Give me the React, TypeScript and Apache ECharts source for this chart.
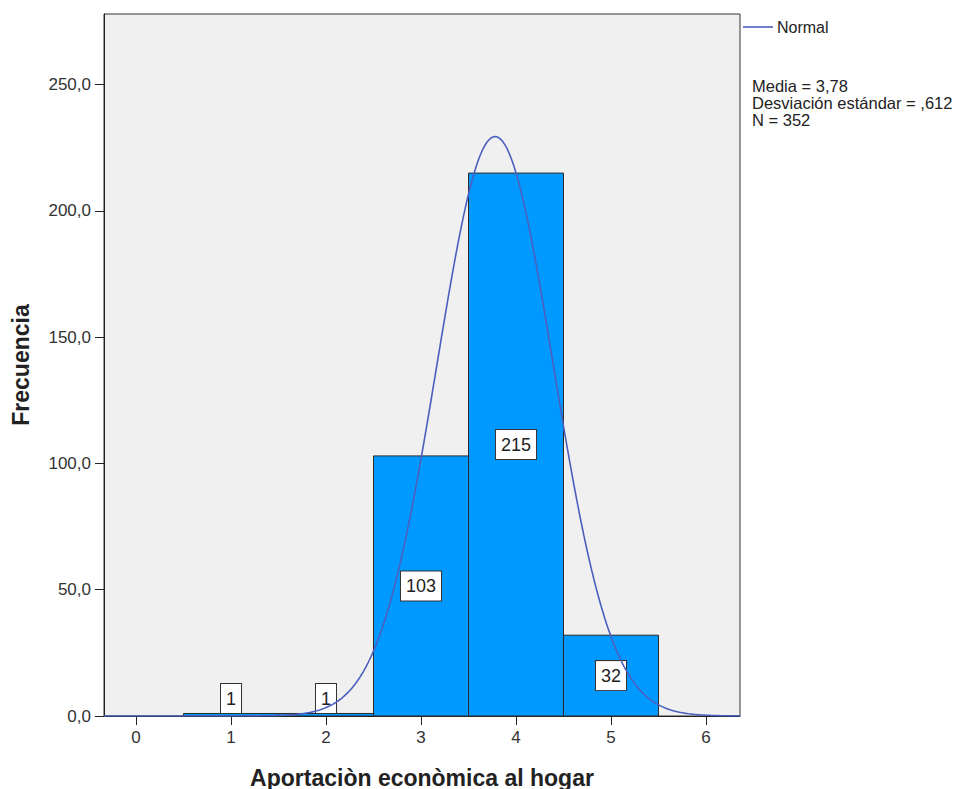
import React, { useEffect, useRef } from "react";
import * as echarts from "echarts";

const categories = [1, 2, 3, 4, 5];
const frequencies = [1, 1, 103, 215, 32];
const yTicks = [0, 50, 100, 150, 200, 250];
const xTicks = [0, 1, 2, 3, 4, 5, 6];
const MEAN = 3.78;
const SD = 0.612;
const N = 352;
const BIN_WIDTH = 1;
const statsLines = ["Media = 3,78", "Desviación estándar = ,612", "N = 352"];

const X_MIN = -0.337;
const X_MAX = 6.358;
const Y_MAX = 278;

const FONT = "'Liberation Sans', Arial, sans-serif";

function normalCurve(): number[][] {
  const pts: number[][] = [];
  const steps = 400;
  for (let i = 0; i <= steps; i++) {
    const x = X_MIN + ((X_MAX - X_MIN) * i) / steps;
    const z = (x - MEAN) / SD;
    const y = ((N * BIN_WIDTH) / (SD * Math.sqrt(2 * Math.PI))) * Math.exp(-0.5 * z * z);
    pts.push([x, y]);
  }
  return pts;
}

export default function App() {
  const ref = useRef<HTMLDivElement>(null);
  useEffect(() => {
    if (!ref.current) return;
    const chart = echarts.init(ref.current, undefined, { renderer: "svg" });
    const barData = categories.map((c, i) => [c, frequencies[i]]);
    chart.setOption({
      animation: false,
      grid: {
        left: 104,
        top: 14,
        right: 226,
        bottom: 73,
        containLabel: false,
        outerBoundsMode: "none",
        show: true,
        backgroundColor: "#f0f0f0",
        borderColor: "#333",
        borderWidth: 1,
      },
      xAxis: {
        type: "value",
        min: X_MIN,
        max: X_MAX,
        splitLine: { show: false },
        axisLine: { show: true, onZero: false, lineStyle: { color: "#222", width: 1 } },
        axisTick: { show: true, length: 9, customValues: xTicks, lineStyle: { color: "#222" } },
        axisLabel: {
          customValues: xTicks,
          margin: 13,
          fontSize: 17,
          color: "#333",
          fontFamily: FONT,
          formatter: (v: number) => String(Math.round(v)),
        },
        name: "Aportaciòn econòmica al hogar",
        nameLocation: "middle",
        nameGap: 50,
        nameTextStyle: { fontSize: 23, fontWeight: "bold", color: "#222", fontFamily: FONT },
      },
      yAxis: {
        type: "value",
        min: 0,
        max: Y_MAX,
        interval: 50,
        splitLine: { show: false },
        axisLine: { show: true, onZero: false, lineStyle: { color: "#222", width: 1 } },
        axisTick: { show: true, length: 9, customValues: yTicks, lineStyle: { color: "#222" } },
        axisLabel: {
          customValues: yTicks,
          margin: 13,
          fontSize: 17,
          color: "#333",
          fontFamily: FONT,
          formatter: (v: number) => v.toFixed(1).replace(".", ","),
        },
        name: "Frecuencia",
        nameLocation: "middle",
        nameGap: 72,
        nameTextStyle: { fontSize: 23, fontWeight: "bold", color: "#222", fontFamily: FONT },
      },
      series: [
        {
          type: "custom",
          data: barData,
          renderItem: (params: any, api: any) => {
            const x = api.value(0);
            const v = api.value(1);
            const p0 = api.coord([x - BIN_WIDTH / 2, 0]);
            const p1 = api.coord([x + BIN_WIDTH / 2, v]);
            return {
              type: "rect",
              shape: { x: p0[0], y: p1[1], width: p1[0] - p0[0], height: p0[1] - p1[1] },
              style: { fill: "#0099ff", stroke: "#2b2b2b", lineWidth: 1 },
              textContent: {
                style: {
                  text: String(v),
                  fill: "#222",
                  font: `18px ${FONT}`,
                  backgroundColor: "#ffffff",
                  borderColor: "#333",
                  borderWidth: 1,
                  padding: [6, 5, 5, 5],
                },
              },
              textConfig: { position: v < 10 ? "top" : "inside", distance: 0 },
            };
          },
          z: 2,
        },
        {
          type: "line",
          data: normalCurve(),
          showSymbol: false,
          symbol: "none",
          lineStyle: { color: "#4b5fbf", width: 1.6 },
          z: 3,
        },
      ],
      graphic: [
        { type: "line", shape: { x1: 743, y1: 27, x2: 773, y2: 27 }, style: { stroke: "#4b5fbf", lineWidth: 1.6 } },
        {
          type: "text",
          x: 777,
          y: 27,
          style: { text: "Normal", font: `16px ${FONT}`, fill: "#222", verticalAlign: "middle" },
        },
        ...statsLines.map((t, i) => ({
          type: "text",
          x: 752,
          y: 86 + i * 17,
          style: { text: t, font: `16.5px ${FONT}`, fill: "#222", verticalAlign: "middle", lineHeight: 16 },
        })),
      ],
    });
    return () => chart.dispose();
  }, []);
  return (
    <div
      ref={ref}
      style={{ position: "fixed", left: 0, top: 0, width: 966, height: 789, background: "#fff" }}
    />
  );
}
